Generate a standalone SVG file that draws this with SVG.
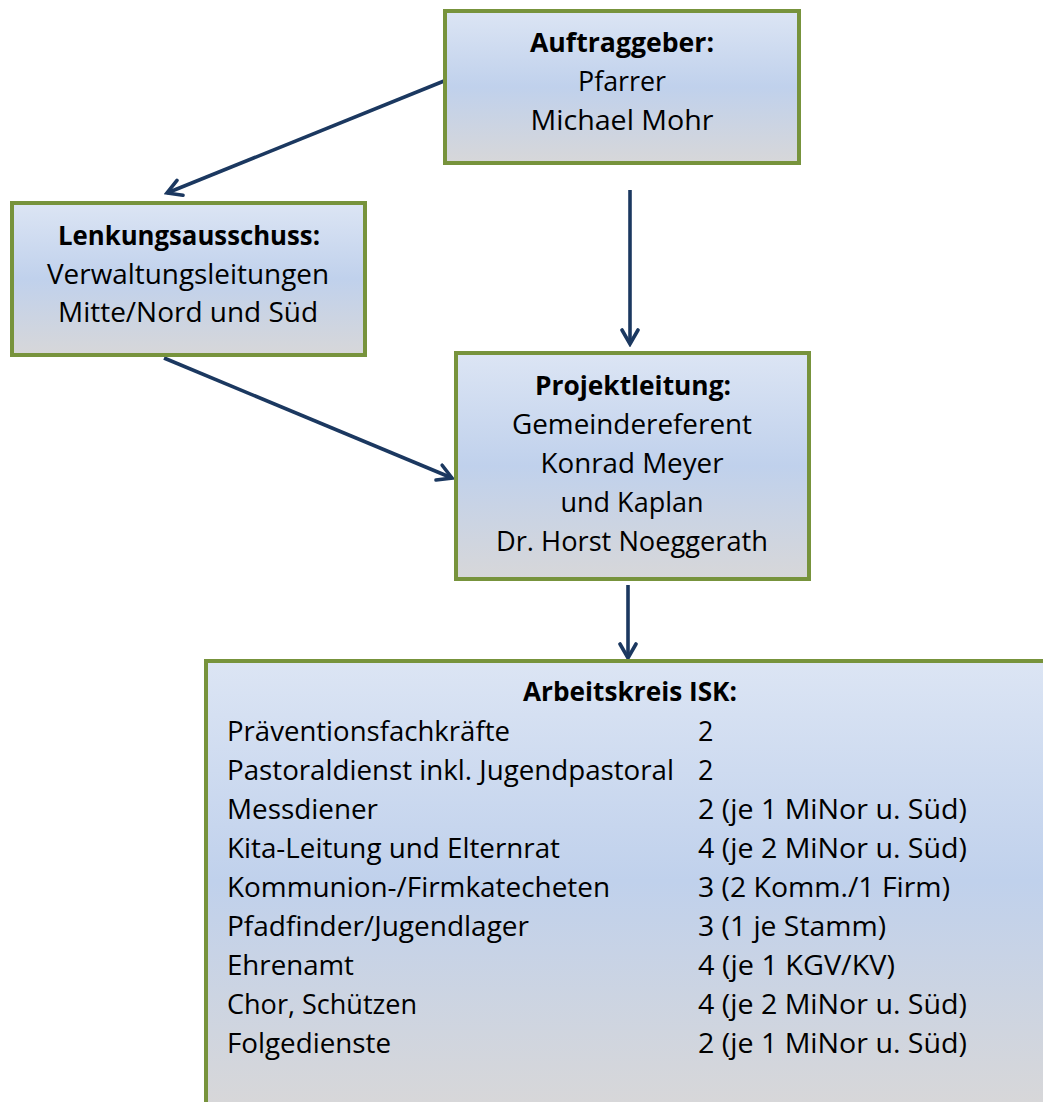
<svg xmlns="http://www.w3.org/2000/svg" width="1043" height="1102" viewBox="0 0 1043 1102">
<defs>
<linearGradient id="g" x1="0" y1="0" x2="0" y2="1">
<stop offset="0" stop-color="#dce5f4"/>
<stop offset="0.5" stop-color="#c0d1ec"/>
<stop offset="1" stop-color="#d7d7d9"/>
</linearGradient>
<linearGradient id="g2" gradientUnits="userSpaceOnUse" x1="0" y1="660" x2="0" y2="1102">
<stop offset="0" stop-color="#dce5f4"/>
<stop offset="0.5" stop-color="#c0d1ec"/>
<stop offset="1" stop-color="#d7d7d9"/>
</linearGradient>
<marker id="ah" viewBox="0 0 20 20" refX="17" refY="10" markerWidth="20" markerHeight="20" markerUnits="userSpaceOnUse" orient="auto">
<path d="M3,2 L17,10 L3,18" fill="none" stroke="#1b3860" stroke-width="3.6" stroke-linecap="round" stroke-linejoin="miter"/>
</marker>
</defs>
<style>
.box{fill:url(#g);stroke:#77933c;stroke-width:4}
.t{font-family:"Open Sans","Noto Sans",sans-serif;font-size:27px;fill:#000}
.c{text-anchor:middle}
.b{font-weight:bold}
.ln{stroke:#1b3860;stroke-width:3.6;fill:none;marker-end:url(#ah)}
</style>
<rect width="1043" height="1102" fill="#fff"/>
<g id="connectors">
<line class="ln" x1="444" y1="81" x2="167" y2="193"/>
<line class="ln" x1="630" y1="190" x2="630" y2="344"/>
<line class="ln" x1="164" y1="358" x2="452" y2="478"/>
<line class="ln" x1="628" y1="585" x2="628" y2="658"/>
</g>
<g id="auftraggeber">
<rect class="box" x="445" y="11" width="354" height="152"/>
<text class="t c b" x="622" y="52" textLength="184" lengthAdjust="spacingAndGlyphs">Auftraggeber:</text>
<text class="t c" x="622" y="91" textLength="88" lengthAdjust="spacingAndGlyphs">Pfarrer</text>
<text class="t c" x="622" y="130" textLength="183" lengthAdjust="spacingAndGlyphs">Michael Mohr</text>
</g>
<g id="lenkungsausschuss">
<rect class="box" x="12" y="203" width="353" height="152"/>
<text class="t c b" x="189" y="245" textLength="262" lengthAdjust="spacingAndGlyphs">Lenkungsausschuss:</text>
<text class="t c" x="188" y="284" textLength="282" lengthAdjust="spacingAndGlyphs">Verwaltungsleitungen</text>
<text class="t c" x="188" y="322" textLength="260" lengthAdjust="spacingAndGlyphs">Mitte/Nord und Süd</text>
</g>
<g id="projektleitung">
<rect class="box" x="456" y="353" width="353" height="226"/>
<text class="t c b" x="633" y="395" textLength="196" lengthAdjust="spacingAndGlyphs">Projektleitung:</text>
<text class="t c" x="632" y="434" textLength="240" lengthAdjust="spacingAndGlyphs">Gemeindereferent</text>
<text class="t c" x="632" y="473" textLength="183" lengthAdjust="spacingAndGlyphs">Konrad Meyer</text>
<text class="t c" x="632" y="512" textLength="143" lengthAdjust="spacingAndGlyphs">und Kaplan</text>
<text class="t c" x="632" y="551" textLength="272" lengthAdjust="spacingAndGlyphs">Dr. Horst Noeggerath</text>
</g>
<g id="arbeitskreis">
<rect x="206" y="661" width="860" height="480" fill="url(#g2)" stroke="#77933c" stroke-width="4"/>
<text class="t c b" x="630" y="701" textLength="214" lengthAdjust="spacingAndGlyphs">Arbeitskreis ISK:</text>
<text class="t" x="227" y="741" textLength="283" lengthAdjust="spacingAndGlyphs">Präventionsfachkräfte</text>
<text class="t" x="698" y="741">2</text>
<text class="t" x="227" y="780" textLength="447" lengthAdjust="spacingAndGlyphs">Pastoraldienst inkl. Jugendpastoral</text>
<text class="t" x="698" y="780">2</text>
<text class="t" x="227" y="819" textLength="151" lengthAdjust="spacingAndGlyphs">Messdiener</text>
<text class="t" x="698" y="819" textLength="269" lengthAdjust="spacingAndGlyphs">2 (je 1 MiNor u. Süd)</text>
<text class="t" x="227" y="858" textLength="333" lengthAdjust="spacingAndGlyphs">Kita-Leitung und Elternrat</text>
<text class="t" x="698" y="858" textLength="269" lengthAdjust="spacingAndGlyphs">4 (je 2 MiNor u. Süd)</text>
<text class="t" x="227" y="897" textLength="383" lengthAdjust="spacingAndGlyphs">Kommunion-/Firmkatecheten</text>
<text class="t" x="698" y="897" textLength="252" lengthAdjust="spacingAndGlyphs">3 (2 Komm./1 Firm)</text>
<text class="t" x="227" y="936" textLength="302" lengthAdjust="spacingAndGlyphs">Pfadfinder/Jugendlager</text>
<text class="t" x="698" y="936" textLength="188" lengthAdjust="spacingAndGlyphs">3 (1 je Stamm)</text>
<text class="t" x="227" y="975" textLength="127" lengthAdjust="spacingAndGlyphs">Ehrenamt</text>
<text class="t" x="698" y="975" textLength="197" lengthAdjust="spacingAndGlyphs">4 (je 1 KGV/KV)</text>
<text class="t" x="227" y="1014" textLength="190" lengthAdjust="spacingAndGlyphs">Chor, Schützen</text>
<text class="t" x="698" y="1014" textLength="269" lengthAdjust="spacingAndGlyphs">4 (je 2 MiNor u. Süd)</text>
<text class="t" x="227" y="1053" textLength="164" lengthAdjust="spacingAndGlyphs">Folgedienste</text>
<text class="t" x="698" y="1053" textLength="269" lengthAdjust="spacingAndGlyphs">2 (je 1 MiNor u. Süd)</text>
</g>
</svg>
